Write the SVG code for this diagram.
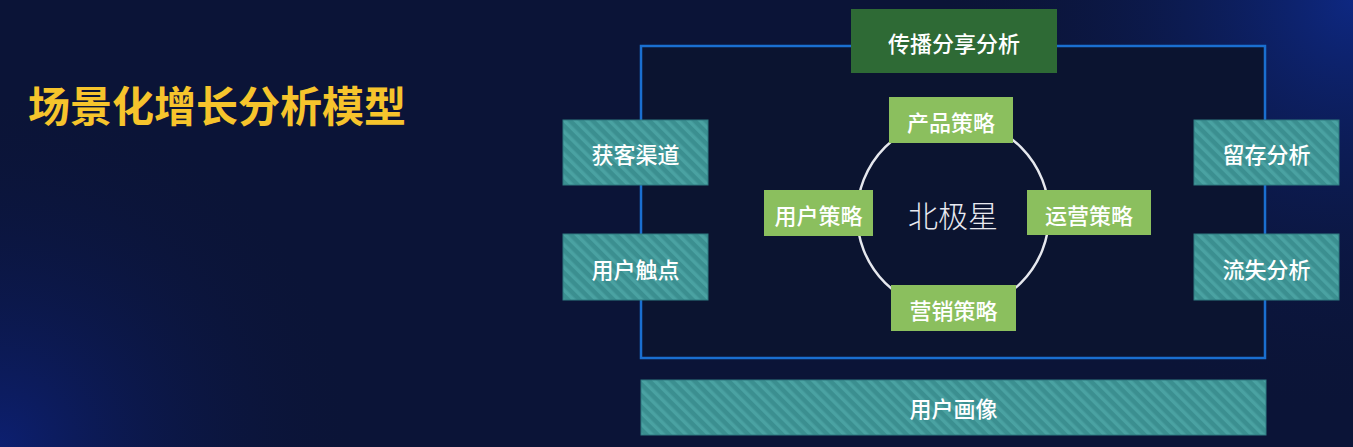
<svg xmlns="http://www.w3.org/2000/svg" width="1353" height="447" viewBox="0 0 1353 447">
<defs>
<radialGradient id="glowTR" cx="1353" cy="0" r="420" gradientUnits="userSpaceOnUse">
<stop offset="0" stop-color="#0e2a8a" stop-opacity="0.9"/>
<stop offset="1" stop-color="#0b1437" stop-opacity="0"/>
</radialGradient>
<radialGradient id="glowBL" cx="0" cy="447" r="360" gradientUnits="userSpaceOnUse">
<stop offset="0" stop-color="#0d2383" stop-opacity="0.75"/>
<stop offset="1" stop-color="#0b1437" stop-opacity="0"/>
</radialGradient>
<pattern id="stripes" patternUnits="userSpaceOnUse" width="8" height="8" patternTransform="rotate(-45)">
<rect width="8" height="8" fill="#3b8f90"/>
<rect width="3.5" height="8" fill="#4aa2a2"/>
</pattern>
<style>
.teal{fill:url(#stripes);stroke:#2f7a80;stroke-width:1}
.green{fill:#8bbf5e}
.lbl{font-family:"Noto Sans CJK SC","Noto Sans",sans-serif;font-size:22px;fill:#ffffff;text-anchor:middle;dominant-baseline:central;font-weight:500}
</style>
</defs>
<rect width="1353" height="447" fill="#0b1437"/>
<rect width="1353" height="447" fill="url(#glowTR)"/>
<rect width="1353" height="447" fill="url(#glowBL)"/>
<text x="28" y="103" font-family="Noto Sans CJK SC, sans-serif" font-size="42" font-weight="700" fill="#f6c42c" dominant-baseline="central">场景化增长分析模型</text>
<g id="connectors">
<rect x="641" y="46" width="624" height="312" fill="#0b1430" stroke="#1a6fd0" stroke-width="2.5"/>
<circle cx="953" cy="215" r="96" fill="none" stroke="#e6e8ee" stroke-width="2.5"/>
</g>
<g id="n-share"><rect x="851" y="9" width="206" height="64" fill="#2e6a35"/><text class="lbl" x="954" y="42">传播分享分析</text></g>
<g id="n-acq"><rect class="teal" x="563" y="120" width="145" height="65"/><text class="lbl" x="635.5" y="153">获客渠道</text></g>
<g id="n-touch"><rect class="teal" x="563" y="234" width="145" height="66"/><text class="lbl" x="635.5" y="268">用户触点</text></g>
<g id="n-ret"><rect class="teal" x="1194" y="120" width="145" height="65"/><text class="lbl" x="1266.5" y="153">留存分析</text></g>
<g id="n-churn"><rect class="teal" x="1194" y="234" width="145" height="66"/><text class="lbl" x="1266.5" y="268">流失分析</text></g>
<g id="n-portrait"><rect class="teal" x="641" y="380" width="625" height="55"/><text class="lbl" x="953.5" y="407">用户画像</text></g>
<g id="n-star"><text x="953" y="214" font-family="Noto Sans CJK SC, sans-serif" font-size="30" font-weight="300" fill="#e8e9f0" text-anchor="middle" dominant-baseline="central">北极星</text></g>
<g id="n-prod"><rect class="green" x="889" y="97" width="124" height="46"/><text class="lbl" x="951" y="121">产品策略</text></g>
<g id="n-user"><rect class="green" x="764" y="190" width="109" height="46"/><text class="lbl" x="818.5" y="214">用户策略</text></g>
<g id="n-ops"><rect class="green" x="1027" y="190" width="124" height="45"/><text class="lbl" x="1089" y="214">运营策略</text></g>
<g id="n-mkt"><rect class="green" x="891" y="285" width="125" height="46"/><text class="lbl" x="953.5" y="309">营销策略</text></g>
</svg>
